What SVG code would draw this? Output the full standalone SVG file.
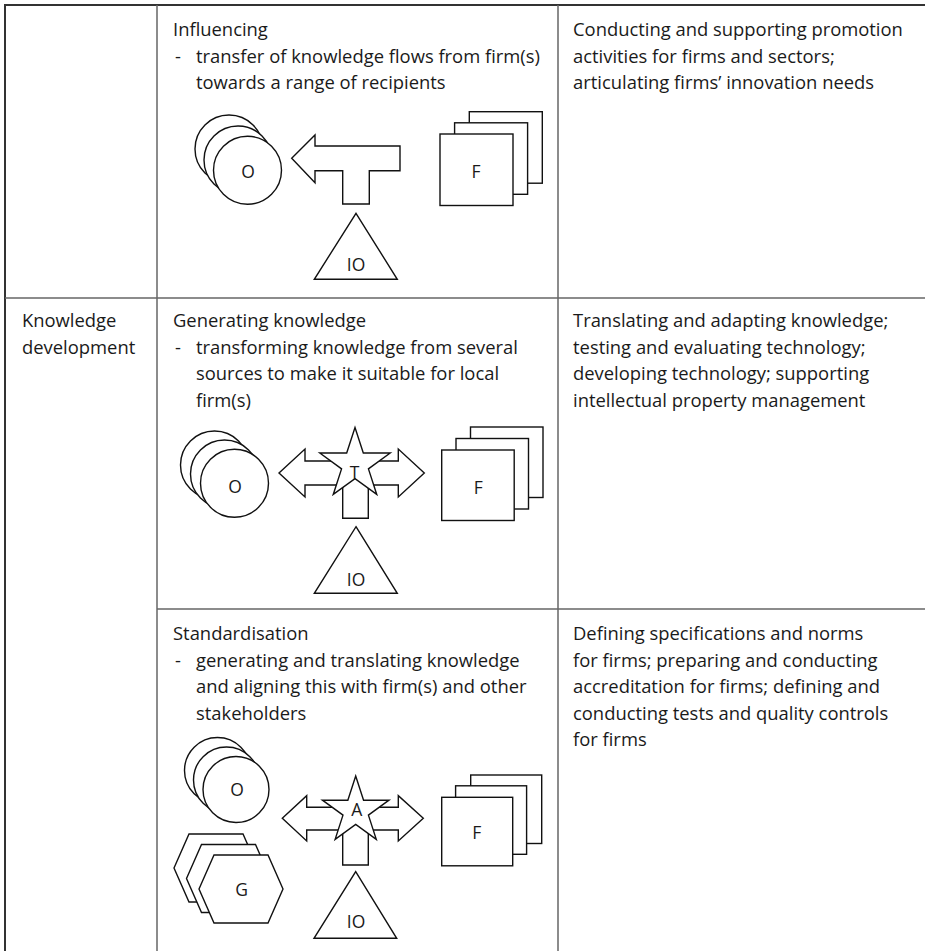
<svg xmlns="http://www.w3.org/2000/svg" width="925" height="951" viewBox="0 0 925 951">
  <style>
    .grid { stroke: #666; stroke-width: 1.5; fill: none; }
    .edge { stroke: #333; stroke-width: 2; fill: none; }
    .shape { fill: #fff; stroke: #111; stroke-width: 1.4; stroke-linejoin: miter; }
    .txt { font-family: "Open Sans", "Noto Sans", "Liberation Sans", sans-serif; font-size: 18.4px; fill: #1a1a1a; }
    .lbl { font-family: "Open Sans", "Noto Sans", "Liberation Sans", sans-serif; font-size: 17.5px; fill: #1a1a1a; text-anchor: middle; }
  </style>
  <defs>
    <polygon id="hex" points="-42,0 -27,-34 27,-34 42,0 27,34 -27,34"/>
  </defs>

  <rect width="925" height="951" fill="#fff"/>

  <!-- table rules -->
  <g id="table">
    <line class="edge" x1="4" y1="5" x2="925" y2="5"/>
    <line class="edge" x1="5" y1="4" x2="5" y2="951"/>
    <line class="grid" x1="157" y1="5" x2="157" y2="951"/>
    <line class="grid" x1="558" y1="5" x2="558" y2="951"/>
    <line class="grid" x1="5" y1="298" x2="925" y2="298"/>
    <line class="grid" x1="157" y1="609" x2="925" y2="609"/>
  </g>

  <!-- cell texts -->
  <g id="texts" class="txt">
    <text x="22" y="327">Knowledge</text>
    <text x="22" y="353.5">development</text>

    <text x="173" y="36">Influencing</text>
    <text x="175" y="62.5">-</text>
    <text x="196" y="62.5">transfer of knowledge flows from firm(s)</text>
    <text x="196" y="89">towards a range of recipients</text>

    <text x="173" y="327">Generating knowledge</text>
    <text x="175" y="353.5">-</text>
    <text x="196" y="353.5">transforming knowledge from several</text>
    <text x="196" y="380">sources to make it suitable for local</text>
    <text x="196" y="406.5">firm(s)</text>

    <text x="173" y="640">Standardisation</text>
    <text x="175" y="666.5">-</text>
    <text x="196" y="666.5">generating and translating knowledge</text>
    <text x="196" y="693">and aligning this with firm(s) and other</text>
    <text x="196" y="719.5">stakeholders</text>

    <text x="573" y="36">Conducting and supporting promotion</text>
    <text x="573" y="62.5">activities for firms and sectors;</text>
    <text x="573" y="89">articulating firms’ innovation needs</text>

    <text x="573" y="327">Translating and adapting knowledge;</text>
    <text x="573" y="353.5">testing and evaluating technology;</text>
    <text x="573" y="380">developing technology; supporting</text>
    <text x="573" y="406.5">intellectual property management</text>

    <text x="573" y="640">Defining specifications and norms</text>
    <text x="573" y="666.5">for firms; preparing and conducting</text>
    <text x="573" y="693">accreditation for firms; defining and</text>
    <text x="573" y="719.5">conducting tests and quality controls</text>
    <text x="573" y="746">for firms</text>
  </g>

  <!-- flow arrows -->
  <g id="connectors">
    <path id="flow-influencing" class="shape" d="M291.7,158.3 L315,135 L315,146 L400,146 L400,170.7 L369.3,170.7 L369.3,204 L342.7,204 L342.7,170.7 L315,170.7 L315,182.7 Z"/>
    <path id="flow-generating" class="shape" d="M279,473 L305,449 L305,461 L398.3,461 L398.3,449 L424.3,473 L398.3,497 L398.3,485 L368.3,485 L368.3,518.3 L342.7,518.3 L342.7,485 L305,485 L305,497 Z"/>
    <path id="flow-standard" class="shape" d="M282.3,818.3 L306.7,795.7 L306.7,807.3 L398.3,807.3 L398.3,795.7 L423.3,818.3 L398.3,841 L398.3,830 L368.3,830 L368.3,865 L342.7,865 L342.7,830 L306.7,830 L306.7,841 Z"/>
  </g>

  <!-- Influencing -->
  <g id="inf-O">
    <circle class="shape" cx="229" cy="149" r="34"/>
    <circle class="shape" cx="238" cy="160" r="34"/>
    <circle class="shape" cx="247.5" cy="170.3" r="34"/>
    <text class="lbl" x="248" y="177.5">O</text>
  </g>
  <g id="inf-F">
    <rect class="shape" x="469.3" y="111.7" width="73" height="71.5"/>
    <rect class="shape" x="454.6" y="122.8" width="73" height="71.5"/>
    <rect class="shape" x="440" y="134" width="73" height="71.5"/>
    <text class="lbl" x="476" y="177.5">F</text>
  </g>
  <g id="inf-IO">
    <polygon class="shape" points="356,213.3 397.3,279.3 314.3,279.3"/>
    <text class="lbl" x="356" y="271">IO</text>
  </g>

  <!-- Generating knowledge -->
  <g id="gen-O">
    <circle class="shape" cx="214.5" cy="465" r="34"/>
    <circle class="shape" cx="224.5" cy="474" r="34"/>
    <circle class="shape" cx="234.5" cy="483.3" r="34"/>
    <text class="lbl" x="235" y="493">O</text>
  </g>
  <g id="gen-T">
    <polygon class="shape" points="355,427.5 363.31,453.07 390.19,453.07 368.44,468.87 376.75,494.43 355,478.63 333.25,494.43 341.56,468.87 319.81,453.07 346.69,453.07"/>
    <text class="lbl" x="354.5" y="479">T</text>
  </g>
  <g id="gen-F">
    <rect class="shape" x="470.5" y="427" width="72.5" height="70.5"/>
    <rect class="shape" x="456" y="438.5" width="72.5" height="70.5"/>
    <rect class="shape" x="441.7" y="450" width="72.5" height="70.5"/>
    <text class="lbl" x="478.3" y="494">F</text>
  </g>
  <g id="gen-IO">
    <polygon class="shape" points="356,526.7 397.3,593.3 314.3,593.3"/>
    <text class="lbl" x="356" y="586">IO</text>
  </g>

  <!-- Standardisation -->
  <g id="std-O">
    <circle class="shape" cx="217.5" cy="770.5" r="33"/>
    <circle class="shape" cx="226.5" cy="780" r="33"/>
    <circle class="shape" cx="236" cy="789.5" r="33"/>
    <text class="lbl" x="237" y="795.5">O</text>
  </g>
  <g id="std-G">
    <use href="#hex" class="shape" transform="translate(216,868)"/>
    <use href="#hex" class="shape" transform="translate(228.5,878.5)"/>
    <use href="#hex" class="shape" transform="translate(241,889)"/>
    <text class="lbl" x="241.7" y="895.5">G</text>
  </g>
  <g id="std-A">
    <polygon class="shape" points="355.7,776 363.56,800.18 388.99,800.18 368.42,815.13 376.27,839.32 355.7,824.37 335.13,839.32 342.98,815.13 322.41,800.18 347.84,800.18"/>
    <text class="lbl" x="356.7" y="816">A</text>
  </g>
  <g id="std-F">
    <rect class="shape" x="470.7" y="775" width="71" height="68.5"/>
    <rect class="shape" x="455.6" y="785.8" width="71" height="68.5"/>
    <rect class="shape" x="441.7" y="797.3" width="71" height="68.5"/>
    <text class="lbl" x="476.7" y="839">F</text>
  </g>
  <g id="std-IO">
    <polygon class="shape" points="355.7,871.7 396.7,938.3 314,938.3"/>
    <text class="lbl" x="356" y="928">IO</text>
  </g>
</svg>
